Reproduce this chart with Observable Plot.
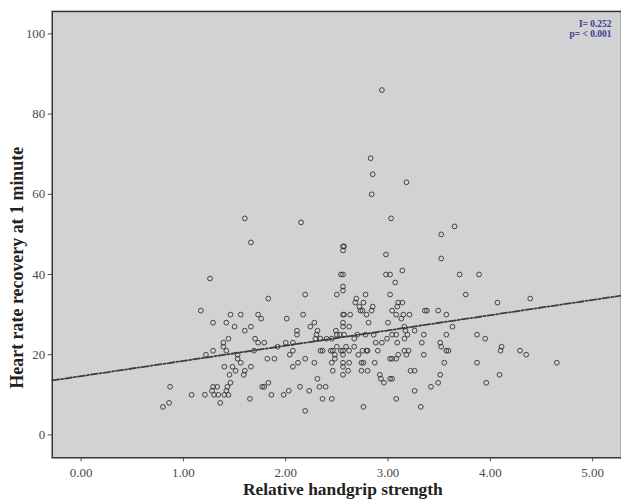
<!DOCTYPE html>
<html><head><meta charset="utf-8">
<script src="https://cdn.jsdelivr.net/npm/d3@7"></script>
<script src="https://cdn.jsdelivr.net/npm/@observablehq/plot@0.6"></script>
<style>
html,body{margin:0;padding:0;background:#fff;overflow:hidden;}
#chart svg{display:block;}
</style></head><body><div id="chart"></div>
<script>
// Relative handgrip strength (x) and heart rate recovery at 1 minute (y)
const strength = [
  1.60,1.66,1.26,1.83,1.17,1.46,1.56,1.73,1.76,1.29,1.42,1.50,1.66,1.60,2.01,1.44,1.70,1.39,1.73,1.79,
  1.39,1.29,1.42,1.69,1.22,1.53,1.53,1.82,1.89,1.56,1.40,1.48,1.66,1.51,1.60,1.45,1.59,1.46,1.83,0.87,
  1.29,1.33,1.43,1.77,1.79,1.28,1.42,2.03,1.08,1.21,1.30,1.34,1.40,1.44,1.86,1.98,1.65,0.80,0.86,1.36,
  2.07,2.04,2.07,2.12,2.11,2.11,2.00,2.07,1.92,
  2.15,3.03,3.65,3.52,3.52,2.56,2.57,2.56,2.98,2.54,2.56,2.98,3.02,3.14,3.07,2.56,2.56,2.50,2.19,3.02,
  2.78,2.69,2.68,2.76,3.10,3.14,2.72,2.85,3.09,2.73,2.75,2.84,3.04,3.36,3.38,3.49,2.17,2.56,2.57,2.63,
  2.79,3.08,3.15,3.21,3.57,2.28,2.56,2.81,3.00,3.13,2.24,2.56,2.62,3.16,3.63,
  2.31,2.49,3.17,3.26,
  2.30,2.50,2.53,2.57,2.70,2.78,2.86,3.04,3.08,3.19,3.35,3.57,
  2.29,2.34,2.40,2.45,2.67,3.16,2.99,
  2.88,2.94,3.09,3.33,3.51,
  2.50,2.59,2.67,3.52,
  2.34,2.36,2.44,2.46,2.54,2.56,2.62,2.75,2.79,2.80,2.90,3.16,3.20,3.57,3.59,
  2.48,2.56,2.71,3.10,3.18,3.35,
  2.19,2.48,3.02,3.04,3.08,
  2.28,2.45,2.56,2.62,2.74,2.76,2.87,3.55,
  2.56,
  2.46,2.61,2.74,2.80,3.22,3.26,
  2.56,2.92,3.51,
  2.31,2.93,3.02,3.04,
  2.96,3.49,
  2.14,2.33,2.39,3.42,
  2.23,3.26,
  2.36,2.45,3.08,
  2.76,3.32,
  2.19,
  3.70,3.89,3.76,4.07,4.39,3.87,3.95,4.11,4.10,4.29,4.35,3.87,4.65,4.09,3.96,
  2.94,2.83,2.85,3.18,2.84
];
const recovery = [
  54,48,39,34,31,30,30,30,29,28,28,27,27,26,29,24,24,23,23,23,
  22,21,21,21,20,20,19,19,19,18,17,17,17,16,16,15,15,13,13,12,
  12,12,12,12,12,11,11,11,10,10,10,10,10,10,10,10,9,7,8,8,
  21,20,17,18,26,25,23,23,22,
  53,54,52,50,44,47,47,46,45,40,40,40,40,41,38,37,36,35,35,35,
  35,34,33,33,33,33,32,32,32,31,31,31,31,31,31,31,30,30,30,30,
  30,30,30,30,30,28,28,28,28,29,27,27,27,27,27,
  26,26,26,26,
  25,25,25,25,25,25,25,25,25,25,25,25,
  24,24,24,24,24,24,24,
  23,23,23,23,23,
  22,22,22,22,
  21,21,21,21,21,21,21,21,21,21,21,21,21,21,21,
  20,20,20,20,20,20,
  19,19,19,19,19,
  18,18,18,18,18,18,18,18,
  17,
  16,16,16,16,16,16,
  15,15,15,
  14,14,14,14,
  13,13,
  12,12,12,12,
  11,11,
  9,9,9,
  7,7,
  6,
  40,40,35,33,34,25,24,22,21,21,20,18,18,15,13,
  86,69,65,63,60
];
const xTicks = [0, 1, 2, 3, 4, 5];
const yTicks = [0, 20, 40, 60, 80, 100];
const xTitle = "Relative handgrip strength";
const yTitle = "Heart rate recovery at 1 minute";
const statLines = ["I= 0.252", "p= < 0.001"];
const fitIntercept = 14.66;
const fitSlope = 3.80;
const xDomain = [-0.282, 5.282];
const yDomain = [-5.7, 105.6];

const points = strength.map((s, i) => ({s, r: recovery[i]}));
const fit = xDomain.map(s => ({s, r: fitIntercept + fitSlope * s}));

const serif = "'Liberation Serif','Times New Roman',serif";
const chart = Plot.plot({
  width: 624,
  height: 502,
  marginLeft: 52,
  marginRight: 0,
  marginTop: 11,
  marginBottom: 42.5,
  style: {fontFamily: serif, background: "#fff", overflow: "visible"},
  x: {domain: xDomain},
  y: {domain: yDomain},
  marks: [
    Plot.frame({fill: "#d1d2d4"}),
    Plot.axisX({ticks: xTicks, tickFormat: d3.format(".2f"), tickSize: 4, tickPadding: 6, fontSize: 13, color: "#4a4a4a", label: null}),
    Plot.axisY({ticks: yTicks, tickSize: 4, tickPadding: 3, fontSize: 13, color: "#4a4a4a", label: null}),
    Plot.line(fit, {x: "s", y: "r", stroke: "#3d3d3d", strokeWidth: 1.8, strokeDasharray: "7,2,2,2"}),
    Plot.dot(points, {x: "s", y: "r", r: 2.4, stroke: "#333", strokeWidth: 0.9, fill: "none"}),
    Plot.frame({stroke: "#333", strokeWidth: 1.5}),
    Plot.text([xTitle], {text: d => d, frameAnchor: "bottom", dx: 6, dy: 37, fontSize: 17.5, fontWeight: "bold", fill: "#222"}),
    Plot.text([statLines.join("\n")], {text: d => d, frameAnchor: "top-right", textAnchor: "end", lineAnchor: "top", dx: -10, dy: 9, fontSize: 9.5, fontWeight: "bold", fill: "#3f3a8f", lineHeight: 1.05})
  ]
});
// rotated y-axis title
d3.select(chart).append("text")
  .attr("transform", "translate(17,269) rotate(-90)")
  .attr("text-anchor", "middle")
  .attr("dy", "0.35em")
  .attr("font-family", serif)
  .attr("font-size", 18)
  .attr("font-weight", "bold")
  .attr("fill", "#222")
  .text(yTitle);
document.getElementById("chart").append(chart);
</script>
</body></html>
